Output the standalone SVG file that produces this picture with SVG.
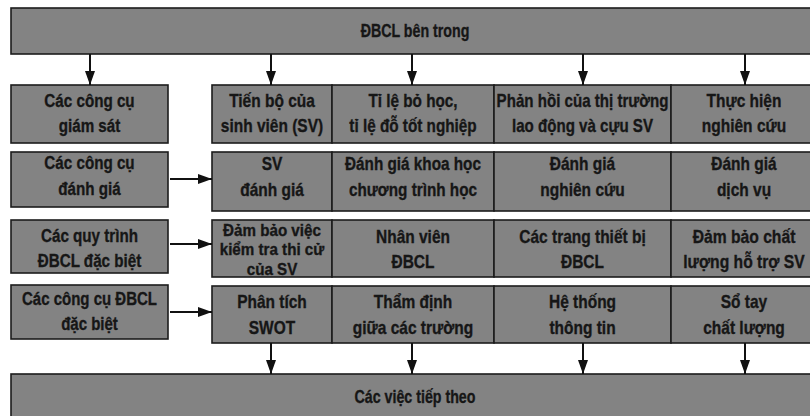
<svg xmlns="http://www.w3.org/2000/svg" width="810" height="416" viewBox="0 0 810 416">
<defs>
<style>
rect{fill:#838383;stroke:#1c1c1c;stroke-width:1.6}
text{font-family:"Liberation Sans",Arial,sans-serif;font-weight:bold;font-size:19px;fill:#161616;stroke:#161616;stroke-width:0.35;text-anchor:middle}
.big{font-size:18px}
.sm{font-size:16.5px}
.c line{stroke:#111;stroke-width:2;marker-end:url(#ah)}
</style>
<marker id="ah" markerUnits="userSpaceOnUse" markerWidth="14" markerHeight="10" refX="14" refY="5" orient="auto"><path d="M0,0 L14,5 L0,10 z" fill="#111"/></marker>
</defs>
<rect x="0" y="0" width="810" height="416" style="fill:#fff;stroke:none"/>
<g id="top"><rect x="11" y="8" width="820" height="46"/><text class="big" transform="translate(415,37) scale(0.79,1)">ĐBCL bên trong</text></g>
<g id="bottom"><rect x="11" y="374" width="820" height="60"/><text class="big" transform="translate(415,403) scale(0.79,1)">Các việc tiếp theo</text></g>

<g id="l1"><rect x="11" y="85" width="157" height="58"/><text transform="translate(89.5,107) scale(0.8,1)"><tspan x="0">Các công cụ</tspan><tspan x="0" dy="25">giám sát</tspan></text></g>
<g id="l2"><rect x="11" y="152" width="157" height="55"/><text transform="translate(89.5,169) scale(0.8,1)"><tspan x="0">Các công cụ</tspan><tspan x="0" dy="26">đánh giá</tspan></text></g>
<g id="l3"><rect x="11" y="220" width="157" height="53"/><text transform="translate(89.5,242) scale(0.8,1)"><tspan x="0">Các quy trình</tspan><tspan x="0" dy="25">ĐBCL đặc biệt</tspan></text></g>
<g id="l4"><rect x="11" y="285" width="157" height="54"/><text transform="translate(89.5,305) scale(0.79,1)"><tspan x="0">Các công cụ ĐBCL</tspan><tspan x="0" dy="25">đặc biệt</tspan></text></g>

<g id="r1c1"><rect x="212" y="85" width="120" height="58"/><text transform="translate(272,107) scale(0.815,1)"><tspan x="0">Tiến bộ của</tspan><tspan x="0" dy="25">sinh viên (SV)</tspan></text></g>
<g id="r1c2"><rect x="332" y="85" width="162" height="58"/><text transform="translate(413,107) scale(0.805,1)"><tspan x="0">Tỉ lệ bỏ học,</tspan><tspan x="0" dy="25">tỉ lệ đỗ tốt nghiệp</tspan></text></g>
<g id="r1c3"><rect x="494" y="85" width="177" height="58"/><text transform="translate(582.5,107) scale(0.795,1)"><tspan x="0">Phản hồi của thị trường</tspan><tspan x="0" dy="25">lao động và cựu SV</tspan></text></g>
<g id="r1c4"><rect x="671" y="85" width="160" height="58"/><text transform="translate(744,107) scale(0.815,1)"><tspan x="0">Thực hiện</tspan><tspan x="0" dy="25">nghiên cứu</tspan></text></g>

<g id="r2c1"><rect x="212" y="152" width="120" height="59"/><text transform="translate(272,170) scale(0.815,1)"><tspan x="0">SV</tspan><tspan x="0" dy="26">đánh giá</tspan></text></g>
<g id="r2c2"><rect x="332" y="152" width="162" height="59"/><text transform="translate(413,170) scale(0.805,1)"><tspan x="0">Đánh giá khoa học</tspan><tspan x="0" dy="26">chương trình học</tspan></text></g>
<g id="r2c3"><rect x="494" y="152" width="177" height="59"/><text transform="translate(582.5,170) scale(0.815,1)"><tspan x="0">Đánh giá</tspan><tspan x="0" dy="26">nghiên cứu</tspan></text></g>
<g id="r2c4"><rect x="671" y="152" width="160" height="59"/><text transform="translate(744,170) scale(0.815,1)"><tspan x="0">Đánh giá</tspan><tspan x="0" dy="26">dịch vụ</tspan></text></g>

<g id="r3c1"><rect x="212" y="220" width="120" height="57"/><text class="sm" transform="translate(272,236) scale(0.92,1)"><tspan x="0">Đảm bảo việc</tspan><tspan x="0" dy="19">kiểm tra thi cử</tspan><tspan x="0" dy="20">của SV</tspan></text></g>
<g id="r3c2"><rect x="332" y="220" width="162" height="57"/><text transform="translate(413,243) scale(0.815,1)"><tspan x="0">Nhân viên</tspan><tspan x="0" dy="25">ĐBCL</tspan></text></g>
<g id="r3c3"><rect x="494" y="220" width="177" height="57"/><text transform="translate(582.5,243) scale(0.815,1)"><tspan x="0">Các trang thiết bị</tspan><tspan x="0" dy="25">ĐBCL</tspan></text></g>
<g id="r3c4"><rect x="671" y="220" width="160" height="57"/><text transform="translate(744,243) scale(0.825,1)"><tspan x="0">Đảm bảo chất</tspan><tspan x="0" dy="25">lượng hỗ trợ SV</tspan></text></g>

<g id="r4c1"><rect x="212" y="286" width="120" height="57"/><text transform="translate(272,308) scale(0.815,1)"><tspan x="0">Phân tích</tspan><tspan x="0" dy="26">SWOT</tspan></text></g>
<g id="r4c2"><rect x="332" y="286" width="162" height="57"/><text transform="translate(413,308) scale(0.815,1)"><tspan x="0">Thẩm định</tspan><tspan x="0" dy="26">giữa các trường</tspan></text></g>
<g id="r4c3"><rect x="494" y="286" width="177" height="57"/><text transform="translate(582.5,308) scale(0.815,1)"><tspan x="0">Hệ thống</tspan><tspan x="0" dy="26">thông tin</tspan></text></g>
<g id="r4c4"><rect x="671" y="286" width="160" height="57"/><text transform="translate(744,308) scale(0.815,1)"><tspan x="0">Sổ tay</tspan><tspan x="0" dy="26">chất lượng</tspan></text></g>

<g id="connectors" class="c">
<line x1="90" y1="54" x2="90" y2="85"/>
<line x1="271" y1="54" x2="271" y2="85"/>
<line x1="412" y1="54" x2="412" y2="85"/>
<line x1="583" y1="54" x2="583" y2="85"/>
<line x1="745" y1="54" x2="745" y2="85"/>
<line x1="170" y1="179" x2="212" y2="179"/>
<line x1="170" y1="244" x2="212" y2="244"/>
<line x1="170" y1="312" x2="212" y2="312"/>
<line x1="271" y1="343" x2="271" y2="374"/>
<line x1="412" y1="343" x2="412" y2="374"/>
<line x1="583" y1="343" x2="583" y2="374"/>
<line x1="745" y1="343" x2="745" y2="374"/>
</g>
</svg>
